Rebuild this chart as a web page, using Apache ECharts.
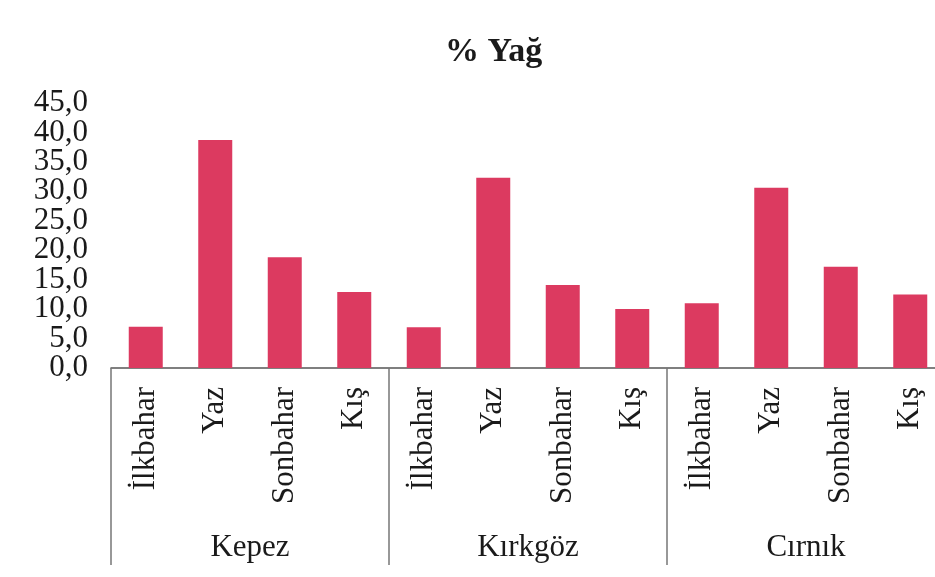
<!DOCTYPE html>
<html>
<head>
<meta charset="utf-8">
<script src="https://cdn.jsdelivr.net/npm/echarts@6/dist/echarts.min.js"></script>
<style>
  html, body { margin: 0; padding: 0; background: #fff; }
  #chart { width: 935px; height: 577px; }
</style>
</head>
<body>
<div id="chart"></div>
<script>
// veriler
var seasons = ['İlkbahar', 'Yaz', 'Sonbahar', 'Kış'];
var stations = ['Kepez', 'Kırkgöz', 'Cırnık'];
var kepez = [7.0, 38.7, 18.8, 12.9];
var kirkgoz = [6.9, 32.3, 14.1, 10.0];
var cirnik = [11.0, 30.6, 17.2, 12.5];
var yTicks = [0, 5, 10, 15, 20, 25, 30, 35, 40, 45];

var categories = [];
stations.forEach(function () {
    seasons.forEach(function (s) { categories.push(s); });
});
var values = kepez.concat(kirkgoz, cirnik);

var font = '"Liberation Serif", "Times New Roman", serif';
var yMin = yTicks[0], yMax = yTicks[yTicks.length - 1];
var fmt = function (v) { return v.toFixed(1).replace('.', ','); };
var yLabel = { margin: 23, fontFamily: font, fontSize: 31, color: '#1a1a1a', formatter: fmt };

var myChart = echarts.init(document.getElementById('chart'));

var option = {
    animation: false,
    title: {
        text: '% Yağ',
        left: 440,
        top: 30,
        textStyle: { fontFamily: font, fontSize: 34, fontWeight: 'bold', color: '#1a1a1a' }
    },
    // son grup resmin sağ kenarından biraz taşıyor
    grid: { left: 111, width: 834, top: 103, bottom: 209, containLabel: false, outerBoundsMode: 'none' },
    xAxis: [
        {
            type: 'category',
            data: categories,
            position: 'bottom',
            axisLine: { show: true, lineStyle: { color: '#555', width: 1.5 } },
            axisTick: { show: false },
            axisLabel: {
                interval: 0,
                rotate: 90,
                margin: 19,
                fontFamily: font,
                fontSize: 31,
                color: '#1a1a1a'
            }
        },
        {
            type: 'category',
            data: stations,
            position: 'bottom',
            axisLine: { show: false },
            axisTick: {
                show: true,
                interval: 0,
                length: 197,
                lineStyle: { color: '#777', width: 1.5 }
            },
            axisLabel: {
                interval: 0,
                margin: 164,
                fontFamily: font,
                fontSize: 31,
                color: '#1a1a1a'
            }
        }
    ],
    // etiketler sık olduğu için iki eksen: biri ara değerler, biri 0 ve 45
    yAxis: [
        {
            type: 'value',
            min: yMin,
            max: yMax,
            interval: 5,
            axisLine: { show: false },
            axisTick: { show: false },
            splitLine: { show: false },
            axisLabel: Object.assign({ showMinLabel: false, showMaxLabel: false }, yLabel)
        },
        {
            type: 'value',
            position: 'left',
            min: yMin,
            max: yMax,
            interval: yMax - yMin,
            axisLine: { show: false },
            axisTick: { show: false },
            splitLine: { show: false },
            axisLabel: Object.assign({ showMinLabel: true, showMaxLabel: true }, yLabel)
        }
    ],
    series: [
        {
            type: 'bar',
            data: values,
            barWidth: 34,
            itemStyle: { color: '#dc3a60' }
        }
    ]
};
myChart.setOption(option);
</script>
</body>
</html>
